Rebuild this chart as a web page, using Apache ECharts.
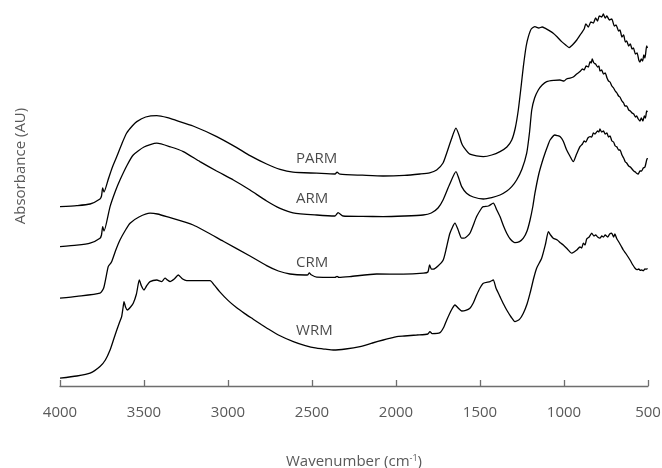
<!DOCTYPE html>
<html>
<head>
<meta charset="utf-8">
<script src="https://cdn.jsdelivr.net/npm/echarts@6/dist/echarts.min.js"></script>
<style>html,body{margin:0;padding:0;background:#fff}#c{width:662px;height:468px}</style>
</head>
<body>
<div id="c"></div>
<script>
var seriesNames = ['PARM', 'ARM', 'CRM', 'WRM'];
var xTicks = [4000, 3500, 3000, 2500, 2000, 1500, 1000, 500];

var parm = [[4000,0.897],[3900,0.902],[3821,0.910],[3762,0.935],[3753,0.950],[3746,0.990],[3738,0.970],[3714,1.030],[3690,1.09],[3662,1.147],[3630,1.215],[3603,1.265],[3570,1.300],[3543,1.322],[3490,1.345],[3424,1.352],[3360,1.342],[3305,1.327],[3208,1.300],[3067,1.247],[2948,1.192],[2869,1.152],[2770,1.110],[2690,1.083],[2613,1.069],[2472,1.064],[2363,1.060],[2351,1.069],[2333,1.059],[2200,1.054],[2077,1.050],[1950,1.053],[1857,1.060],[1800,1.066],[1758,1.080],[1720,1.115],[1698,1.165],[1670,1.235],[1643,1.289],[1625,1.255],[1610,1.215],[1599,1.197],[1560,1.159],[1480,1.147],[1430,1.155],[1381,1.172],[1340,1.195],[1311,1.230],[1290,1.290],[1272,1.380],[1255,1.500],[1242,1.597],[1225,1.700],[1212,1.747],[1195,1.785],[1173,1.797],[1150,1.790],[1130,1.795],[1113,1.789],[1090,1.778],[1064,1.764],[1040,1.745],[1014,1.722],[990,1.705],[970,1.692],[950,1.705],[924,1.730],[900,1.760],[880,1.785],[870,1.81],[855,1.795],[840,1.82],[825,1.815],[812,1.84],[800,1.825],[790,1.85],[775,1.845],[766,1.86],[755,1.84],[745,1.85],[730,1.83],[716,1.835],[700,1.80],[690,1.805],[675,1.775],[667,1.78],[655,1.745],[645,1.755],[635,1.72],[627,1.725],[615,1.70],[605,1.71],[595,1.685],[587,1.69],[575,1.66],[565,1.665],[555,1.63],[548,1.62],[540,1.635],[532,1.625],[525,1.655],[518,1.64],[508,1.70],[503,1.69]];

var arm = [[4000,0.697],[3900,0.704],[3821,0.714],[3762,0.739],[3753,0.755],[3746,0.797],[3738,0.775],[3702,0.897],[3670,0.975],[3643,1.030],[3600,1.105],[3564,1.155],[3500,1.195],[3424,1.214],[3340,1.195],[3266,1.172],[3167,1.122],[3068,1.075],[2968,1.030],[2869,0.980],[2770,0.925],[2690,0.888],[2613,0.866],[2472,0.855],[2363,0.850],[2345,0.867],[2315,0.850],[2200,0.848],[2077,0.847],[1950,0.850],[1839,0.855],[1790,0.865],[1750,0.890],[1720,0.930],[1680,1.010],[1643,1.072],[1625,1.035],[1609,0.997],[1580,0.964],[1540,0.945],[1480,0.935],[1430,0.942],[1381,0.955],[1340,0.975],[1311,0.997],[1282,1.030],[1250,1.085],[1222,1.164],[1205,1.270],[1192,1.380],[1175,1.440],[1153,1.480],[1130,1.505],[1103,1.522],[1060,1.528],[1024,1.530],[1000,1.525],[985,1.535],[964,1.539],[945,1.545],[925,1.560],[905,1.572],[890,1.585],[880,1.58],[868,1.60],[855,1.595],[845,1.622],[838,1.615],[832,1.635],[822,1.615],[812,1.61],[800,1.595],[792,1.60],[786,1.575],[776,1.58],[765,1.56],[755,1.565],[744,1.54],[735,1.525],[726,1.52],[715,1.50],[705,1.49],[695,1.475],[685,1.465],[675,1.45],[667,1.445],[655,1.425],[645,1.415],[637,1.40],[627,1.40],[615,1.38],[605,1.375],[595,1.365],[585,1.36],[575,1.345],[568,1.35],[558,1.335],[548,1.325],[540,1.34],[530,1.325],[522,1.35],[515,1.34],[508,1.375],[503,1.37]];

var crm = [[4000,0.439],[3900,0.448],[3762,0.464],[3740,0.49],[3713,0.597],[3700,0.612],[3692,0.622],[3670,0.675],[3643,0.730],[3610,0.780],[3583,0.814],[3530,0.845],[3464,0.864],[3420,0.860],[3365,0.847],[3207,0.805],[3028,0.724],[2869,0.650],[2770,0.602],[2700,0.575],[2631,0.560],[2542,0.555],[2525,0.556],[2516,0.566],[2505,0.556],[2472,0.544],[2363,0.543],[2351,0.548],[2340,0.543],[2274,0.547],[2115,0.560],[1957,0.559],[1837,0.564],[1810,0.570],[1800,0.605],[1790,0.585],[1778,0.584],[1750,0.600],[1719,0.630],[1700,0.690],[1679,0.764],[1649,0.814],[1630,0.780],[1609,0.739],[1590,0.740],[1560,0.764],[1520,0.847],[1490,0.890],[1480,0.897],[1450,0.900],[1421,0.914],[1400,0.880],[1381,0.847],[1360,0.800],[1341,0.764],[1320,0.735],[1292,0.717],[1265,0.722],[1242,0.739],[1220,0.775],[1202,0.830],[1185,0.900],[1173,0.964],[1150,1.060],[1130,1.120],[1113,1.164],[1095,1.205],[1083,1.230],[1054,1.255],[1040,1.252],[1024,1.247],[1005,1.225],[984,1.180],[965,1.150],[945,1.122],[925,1.160],[905,1.197],[890,1.210],[880,1.225],[870,1.22],[858,1.24],[845,1.247],[835,1.245],[825,1.265],[815,1.26],[800,1.275],[792,1.27],[786,1.285],[776,1.27],[765,1.275],[755,1.26],[745,1.265],[735,1.245],[726,1.25],[715,1.225],[705,1.22],[695,1.20],[685,1.195],[675,1.18],[667,1.18],[655,1.155],[645,1.14],[635,1.12],[627,1.115],[615,1.10],[605,1.095],[595,1.085],[585,1.075],[575,1.07],[568,1.064],[558,1.06],[548,1.075],[538,1.075],[528,1.09],[518,1.095],[508,1.13],[503,1.14]];

var wrm = [[4000,0.039],[3900,0.050],[3821,0.064],[3762,0.097],[3730,0.130],[3702,0.180],[3680,0.235],[3662,0.280],[3645,0.320],[3633,0.347],[3625,0.390],[3619,0.422],[3610,0.395],[3599,0.380],[3580,0.395],[3564,0.414],[3545,0.460],[3528,0.530],[3515,0.500],[3500,0.480],[3485,0.500],[3464,0.522],[3424,0.530],[3395,0.522],[3375,0.539],[3360,0.530],[3345,0.522],[3320,0.535],[3296,0.555],[3270,0.535],[3246,0.527],[3200,0.527],[3107,0.527],[3080,0.503],[3050,0.472],[3000,0.428],[2950,0.392],[2900,0.362],[2850,0.334],[2800,0.306],[2770,0.290],[2700,0.255],[2611,0.222],[2540,0.202],[2472,0.189],[2420,0.184],[2373,0.180],[2300,0.185],[2214,0.197],[2140,0.215],[2076,0.230],[2040,0.238],[1996,0.247],[1950,0.250],[1877,0.255],[1810,0.260],[1798,0.272],[1785,0.262],[1738,0.267],[1715,0.295],[1698,0.330],[1670,0.380],[1649,0.405],[1630,0.390],[1609,0.375],[1585,0.378],[1560,0.389],[1540,0.415],[1520,0.455],[1500,0.490],[1480,0.514],[1440,0.522],[1421,0.530],[1405,0.490],[1381,0.447],[1360,0.410],[1341,0.380],[1315,0.345],[1292,0.322],[1265,0.333],[1242,0.364],[1220,0.410],[1202,0.464],[1180,0.540],[1163,0.589],[1133,0.639],[1110,0.710],[1093,0.772],[1080,0.755],[1064,0.739],[1040,0.730],[1020,0.715],[1004,0.705],[980,0.685],[954,0.664],[940,0.670],[924,0.680],[905,0.695],[895,0.690],[885,0.714],[875,0.705],[865,0.735],[850,0.745],[835,0.764],[822,0.750],[812,0.755],[800,0.745],[786,0.739],[775,0.750],[765,0.745],[755,0.755],[740,0.745],[728,0.760],[716,0.764],[705,0.745],[697,0.760],[687,0.739],[670,0.715],[660,0.700],[647,0.680],[630,0.660],[607,0.630],[590,0.605],[577,0.589],[565,0.582],[555,0.585],[545,0.578],[538,0.580],[528,0.576],[518,0.585],[508,0.584],[503,0.588]];

// label anchor positions (wavenumber, absorbance) for the curve names
var labelPos = [[2595, 1.135], [2595, 0.935], [2595, 0.6175], [2595, 0.275]];

var chart = echarts.init(document.getElementById('c'), null, {renderer: 'canvas'});
var font = 'Open Sans';
var dataSets = [parm, arm, crm, wrm];
var series = dataSets.map(function (d, i) {
  return {
    name: seriesNames[i], type: 'line', data: d, showSymbol: false, symbol: 'none',
    smooth: 0.2, lineStyle: {color: '#000', width: 1.3}, silent: true, z: 2
  };
});
series.push({
  type: 'scatter', symbolSize: 0, silent: true, z: 3,
  data: labelPos.map(function (p, i) { return {value: p, name: seriesNames[i]}; }),
  label: {show: true, position: 'right', distance: 0, formatter: '{b}',
    fontFamily: font, fontSize: 15, color: '#1a1a1a', align: 'left', verticalAlign: 'middle'}
});

chart.setOption({
  animation: false,
  backgroundColor: '#fff',
  grid: {left: 60, right: 14, top: 6, bottom: 80, containLabel: false, outerBoundsMode: 'none'},
  xAxis: {
    type: 'value', min: 500, max: 4000, interval: 500, inverse: true,
    axisLine: {show: true, lineStyle: {color: '#6e6e6e', width: 1.3}},
    axisTick: {show: true, inside: true, length: 6, lineStyle: {color: '#6e6e6e', width: 1.3}},
    splitLine: {show: false},
    axisLabel: {fontFamily: font, fontSize: 15, color: '#595959', margin: 17,
      formatter: function (v) { return xTicks.indexOf(v) >= 0 ? String(v) : ''; }},
    name: 'Wavenumber (cm{sup|-1})', nameLocation: 'middle', nameGap: 66,
    nameTextStyle: {fontFamily: font, fontSize: 15, color: '#595959',
      rich: {sup: {fontFamily: font, fontSize: 9, color: '#595959', verticalAlign: 'top', lineHeight: 16}}}
  },
  yAxis: {
    type: 'value', min: -0.01, max: 1.9,
    axisLine: {show: false}, axisTick: {show: false}, axisLabel: {show: false}, splitLine: {show: false}
  },
  graphic: [{
    type: 'text', x: 21, y: 166, rotation: Math.PI / 2,
    style: {text: 'Absorbance (AU)', fontFamily: font, fontSize: 15, fill: '#595959',
      align: 'center', verticalAlign: 'middle'}
  }],
  series: series
});
</script>
</body>
</html>
